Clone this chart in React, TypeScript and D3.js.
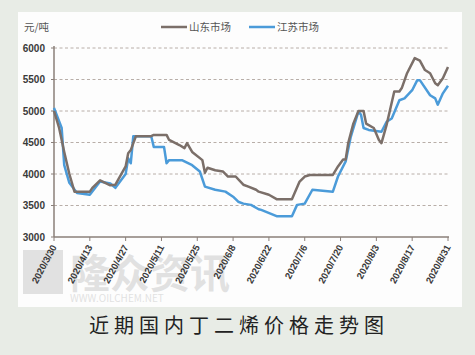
import React from "react";
import * as d3 from "d3";

const yTicks = [3000, 3500, 4000, 4500, 5000, 5500, 6000];
const xTickLabels = ["2020/3/30", "2020/4/13", "2020/4/27", "2020/5/11", "2020/5/25", "2020/6/8", "2020/6/22", "2020/7/6", "2020/7/20", "2020/8/3", "2020/8/17", "2020/8/31"];
const seriesNames = ["山东市场", "江苏市场"];

const shandongDates = ["2020/3/30", "2020/4/1", "2020/4/3", "2020/4/5", "2020/4/7", "2020/4/13", "2020/4/14", "2020/4/17", "2020/4/21", "2020/4/23", "2020/4/27", "2020/4/28", "2020/4/29", "2020/5/1", "2020/5/7", "2020/5/8", "2020/5/13", "2020/5/14", "2020/5/18", "2020/5/20", "2020/5/21", "2020/5/23", "2020/5/27", "2020/5/28", "2020/5/29", "2020/6/1", "2020/6/4", "2020/6/6", "2020/6/9", "2020/6/12", "2020/6/14", "2020/6/17", "2020/6/18", "2020/6/22", "2020/6/25", "2020/7/1", "2020/7/4", "2020/7/6", "2020/7/8", "2020/7/17", "2020/7/19", "2020/7/21", "2020/7/22", "2020/7/23", "2020/7/25", "2020/7/27", "2020/7/29", "2020/7/30", "2020/8/2", "2020/8/4", "2020/8/5", "2020/8/7", "2020/8/10", "2020/8/12", "2020/8/13", "2020/8/15", "2020/8/18", "2020/8/20", "2020/8/22", "2020/8/24", "2020/8/26", "2020/8/27", "2020/8/29", "2020/8/31"];
const shandongValues = [5000, 4730, 4350, 4000, 3720, 3720, 3780, 3900, 3820, 3830, 4120, 4330, 4380, 4600, 4600, 4620, 4620, 4540, 4460, 4410, 4490, 4350, 4220, 4020, 4100, 4060, 4040, 3960, 3960, 3830, 3800, 3750, 3720, 3670, 3600, 3600, 3880, 3960, 3985, 3985, 4120, 4230, 4230, 4490, 4800, 5000, 5000, 4800, 4730, 4540, 4490, 4780, 5310, 5310, 5370, 5600, 5840, 5800, 5650, 5600, 5440, 5410, 5520, 5700];

const jiangsuDates = ["2020/3/30", "2020/4/2", "2020/4/3", "2020/4/5", "2020/4/8", "2020/4/13", "2020/4/17", "2020/4/21", "2020/4/23", "2020/4/27", "2020/4/28", "2020/4/29", "2020/4/30", "2020/5/7", "2020/5/8", "2020/5/12", "2020/5/13", "2020/5/14", "2020/5/19", "2020/5/23", "2020/5/26", "2020/5/28", "2020/6/1", "2020/6/5", "2020/6/8", "2020/6/10", "2020/6/12", "2020/6/15", "2020/6/18", "2020/6/19", "2020/6/25", "2020/7/1", "2020/7/3", "2020/7/6", "2020/7/9", "2020/7/17", "2020/7/19", "2020/7/22", "2020/7/24", "2020/7/26", "2020/7/27", "2020/7/28", "2020/7/29", "2020/7/31", "2020/8/5", "2020/8/7", "2020/8/9", "2020/8/12", "2020/8/14", "2020/8/17", "2020/8/19", "2020/8/20", "2020/8/24", "2020/8/26", "2020/8/27", "2020/8/29", "2020/8/31"];
const jiangsuValues = [5050, 4730, 4140, 3860, 3700, 3670, 3880, 3850, 3780, 4000, 4250, 4170, 4600, 4600, 4430, 4430, 4170, 4220, 4220, 4140, 4040, 3800, 3750, 3720, 3640, 3560, 3530, 3510, 3440, 3430, 3330, 3330, 3510, 3530, 3750, 3720, 3960, 4200, 4590, 4860, 4990, 4940, 4730, 4700, 4670, 4830, 4880, 5170, 5200, 5330, 5490, 5490, 5250, 5200, 5100, 5280, 5400];

const parse = d3.timeParse("%Y/%m/%d");

export default function App() {
  const W = 475, H = 355;
  const m = { left: 54, right: 448, top: 48, bottom: 237 };
  const x = d3.scaleTime()
    .domain([parse(xTickLabels[0])!, parse(xTickLabels[xTickLabels.length - 1])!])
    .range([m.left, m.right]);
  const y = d3.scaleLinear().domain([3000, 6000]).range([m.bottom, m.top]);
  const line = d3.line<[Date, number]>().x(d => x(d[0])).y(d => y(d[1]));
  const sd = shandongDates.map((s, i) => [parse(s)!, shandongValues[i]] as [Date, number]);
  const js = jiangsuDates.map((s, i) => [parse(s)!, jiangsuValues[i]] as [Date, number]);
  const gray = "#7b6f69";
  const blue = "#4b9bd9";
  const font = "'Noto Sans CJK SC', 'Noto Sans', sans-serif";

  return (
    <div style={{ position: "absolute", left: 0, top: 0 }}>
      <svg width={W} height={H} style={{ display: "block" }} fontFamily={font}>
        <rect x={0} y={0} width={W} height={H} fill="#e8ece6" />
        <rect x={18} y={12} width={444} height={295} fill="#fdfdfd" />
        {/* watermark */}
        <g opacity={0.18}>
          <rect x={23} y={250} width={40} height={44} fill="#666" />
          <text x={70} y={288} fontSize={40} fill="#666" fontWeight="bold">隆众资讯</text>
          <text x={70} y={302} fontSize={10} fill="#666">WWW.OILCHEM.NET</text>
        </g>
        {/* grid */}
        {yTicks.filter(t => t > 3000).map(t => (
          <line key={t} x1={m.left} x2={m.right + 2} y1={y(t)} y2={y(t)} stroke="#b8aea8" strokeWidth={1} strokeDasharray="3,2.5" />
        ))}
        {/* axes */}
        <line x1={m.left} x2={m.left} y1={m.top - 2} y2={m.bottom} stroke="#8a7f79" strokeWidth={1.5} />
        <line x1={m.left} x2={m.right + 1} y1={m.bottom} y2={m.bottom} stroke="#8a7f79" strokeWidth={1.5} />
        {yTicks.map(t => (
          <g key={t}>
            <line x1={m.left - 3} x2={m.left} y1={y(t)} y2={y(t)} stroke="#8a7f79" />
            <text x={45} y={y(t) + 3.5} fontSize={10} fontWeight="bold" fill="#3a3a3a" textAnchor="end" fontFamily="'Liberation Sans Narrow', 'Liberation Sans', sans-serif">{t}</text>
          </g>
        ))}
        {xTickLabels.map(s => {
          const xp = x(parse(s)!);
          return (
            <g key={s}>
              <line x1={xp} x2={xp} y1={m.bottom} y2={m.bottom + 4} stroke="#8a7f79" />
              <text transform={`translate(${xp + 3},${m.bottom + 10}) rotate(-62)`} fontSize={9.5} fontWeight="bold" fill="#3a3a3a" textAnchor="end" fontFamily="'Liberation Sans Narrow', 'Liberation Sans', sans-serif">{s}</text>
            </g>
          );
        })}
        {/* lines */}
        <path d={line(js) || ""} fill="none" stroke={blue} strokeWidth={2.5} strokeLinejoin="round" />
        <path d={line(sd) || ""} fill="none" stroke={gray} strokeWidth={2.5} strokeLinejoin="round" />
        {/* unit */}
        <text x={24} y={31} fontSize={10.5} fill="#555">元/吨</text>
        {/* legend */}
        <line x1={161} x2={187} y1={27} y2={27} stroke={gray} strokeWidth={2.5} />
        <text x={189} y={31} fontSize={10.5} fill="#555">{seriesNames[0]}</text>
        <line x1={249} x2={275} y1={27} y2={27} stroke={blue} strokeWidth={2.5} />
        <text x={277} y={31} fontSize={10.5} fill="#555">{seriesNames[1]}</text>
        {/* title */}
        <text x={239} y={333} fontSize={20} fill="#222" textAnchor="middle" letterSpacing={5}>近期国内丁二烯价格走势图</text>
      </svg>
    </div>
  );
}
